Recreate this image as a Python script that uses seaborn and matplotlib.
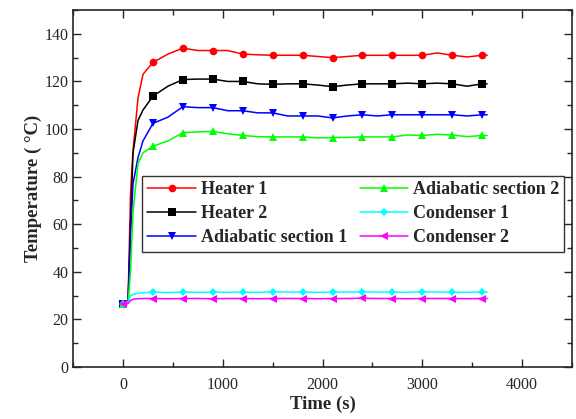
import numpy as np
import pandas as pd
import matplotlib
matplotlib.use('Agg')
import matplotlib.pyplot as plt
import seaborn as sns
from matplotlib.ticker import MultipleLocator

# time (s) and temperatures
time = [0, 50, 75, 100, 150, 200, 300, 450, 600, 750, 900, 1050, 1200, 1350, 1500,
        1650, 1800, 1950, 2100, 2250, 2400, 2550, 2700, 2850, 3000, 3150, 3300, 3450, 3600, 3650]

heater1 = [26.5, 27, 73, 91, 113, 123, 128, 131.5, 134, 133, 133, 133, 131.5, 131.2, 131,
           131, 131, 130.5, 130, 130.5, 131, 131, 131, 131, 131, 132, 131, 130.3, 131, 131]
heater2 = [26.5, 27, 60, 90, 103.6, 108, 113.8, 118, 120.8, 121, 121, 120, 120, 119, 118.8,
           119, 119, 118.5, 117.8, 118.5, 119, 119, 119, 119.3, 119, 119.3, 119, 118, 119, 119]
adiabatic1 = [26.5, 27, 55, 77, 88, 95, 102.4, 105, 109.4, 109, 109, 107.7, 107.7, 106.8, 106.8,
              105.5, 105.5, 105.5, 104.7, 105.5, 106, 105.5, 106, 106, 106, 106, 106, 105.5, 106, 106]
adiabatic2 = [26.5, 27, 40, 65, 85.5, 90, 92.8, 95, 98.5, 98.8, 99, 98, 97.3, 96.8, 96.7,
              96.7, 96.7, 96.3, 96.4, 96.5, 96.7, 96.7, 96.7, 97.5, 97.3, 97.8, 97.5, 96.8, 97.3, 97.3]
condenser1 = [26.3, 27, 30, 30.5, 31, 31.2, 31.5, 31.3, 31.5, 31.4, 31.5, 31.4, 31.5, 31.4, 31.6,
              31.5, 31.5, 31.4, 31.5, 31.5, 31.6, 31.5, 31.5, 31.4, 31.6, 31.5, 31.5, 31.4, 31.5, 31.5]
condenser2 = [26.3, 26.8, 28, 28.5, 28.7, 28.8, 28.8, 28.7, 28.8, 28.8, 28.7, 28.8, 28.8, 28.7, 28.8,
              28.8, 28.8, 28.7, 28.8, 28.8, 28.9, 28.8, 28.8, 28.7, 28.8, 28.8, 28.8, 28.7, 28.8, 28.8]

labels = ['Heater 1', 'Heater 2', 'Adiabatic section 1',
          'Adiabatic section 2', 'Condenser 1', 'Condenser 2']
colors = ['#ff0000', '#000000', '#0000ff', '#00ff00', '#00ffff', '#ff00ff']
markers = ['o', 's', 'v', '^', 'D', '<']
series = [heater1, heater2, adiabatic1, adiabatic2, condenser1, condenser2]

# markers every 300 s
mark_idx = [i for i, t in enumerate(time) if t % 300 == 0]

sns.set_style('ticks')
plt.rcParams['font.family'] = ['Liberation Serif', 'DejaVu Serif']

fig = plt.figure(figsize=(5.76, 4.19), dpi=100)
ax = fig.add_axes([0.127, 0.124, 0.866, 0.852])

for vals, lab, col, mk in zip(series, labels, colors, markers):
    ms = 4.5 if mk == 'D' else 5.5
    sns.lineplot(x=time, y=vals, ax=ax, color=col, label=lab, marker=mk,
                 markersize=ms, markeredgewidth=0, linewidth=1.1, markevery=mark_idx)

ax.set_xlim(-500, 4500)
ax.set_ylim(0, 150)
ax.xaxis.set_major_locator(MultipleLocator(1000))
ax.xaxis.set_minor_locator(MultipleLocator(500))
ax.yaxis.set_major_locator(MultipleLocator(20))
ax.yaxis.set_minor_locator(MultipleLocator(10))
ax.tick_params(which='both', direction='in', top=True, right=True, labelsize=11.5, width=1)
ax.tick_params(which='major', length=6)
ax.tick_params(which='minor', length=3.5)
ax.tick_params(axis='x', pad=7)
for s in ax.spines.values():
    s.set_linewidth(1.2)

ax.set_xlabel('Time (s)', fontsize=13.5, fontweight='bold', labelpad=2)
ax.set_ylabel('Temperature ( °C)', fontsize=13.5, fontweight='bold', labelpad=2)

handles, labs = ax.get_legend_handles_labels()
leg = ax.legend(handles, labs, ncol=2, loc='upper left', bbox_to_anchor=(0.138, 0.535),
                borderaxespad=0, frameon=True, fancybox=False, edgecolor='black',
                prop={'weight': 'bold', 'size': 13}, handlelength=2.7,
                handletextpad=0.25, columnspacing=0.7, labelspacing=0.38,
                borderpad=0.3)
leg.get_frame().set_linewidth(1.0)

fig.savefig('out.png', dpi=100)
